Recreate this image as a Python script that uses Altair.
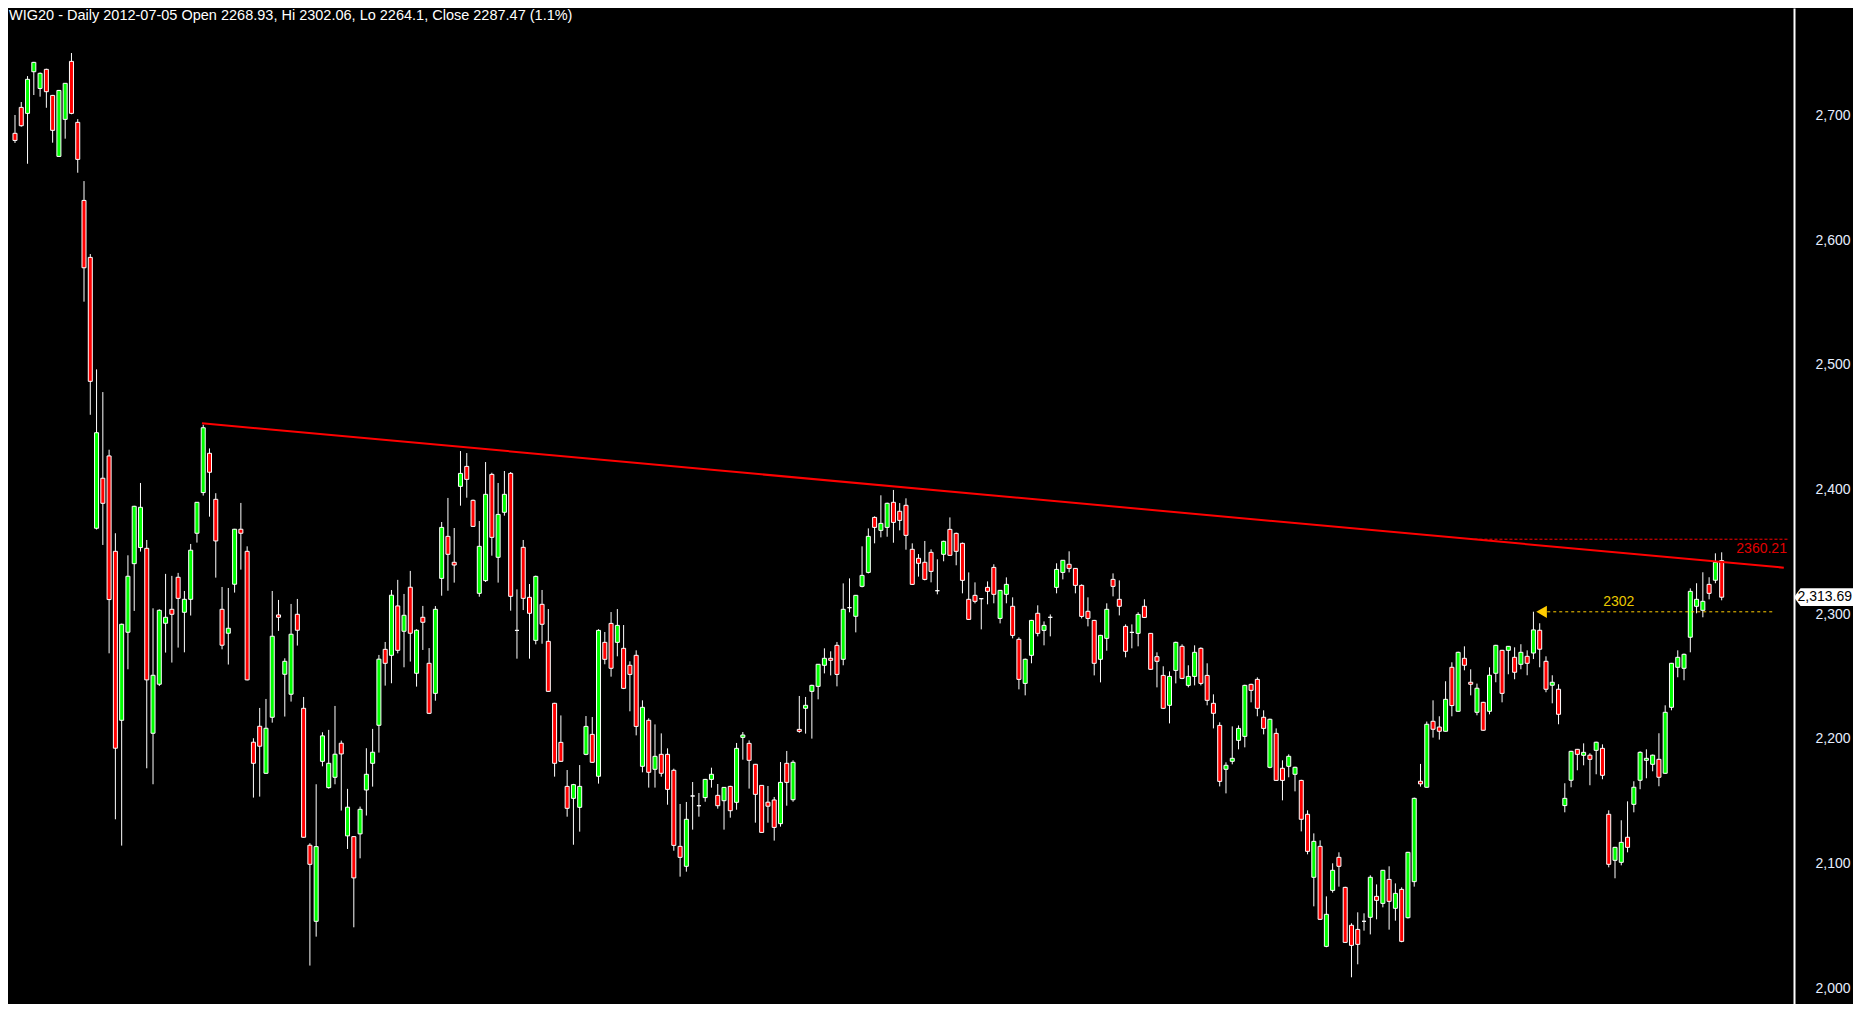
import altair as alt
import pandas as pd

# ---- OHLC values (WIG20 daily, ~Jul 2011 - Jul 2012) ----
opens = [2685.7,2706.5,2701.7,2735.1,2721.7,2737.0,2716.1,2667.2,2696.9,2743.4,
2694.5,2631.9,2586.2,2369.0,2409.1,2427.0,2350.5,2215.0,2285.6,2340.6,
2353.5,2352.9,2204.6,2243.9,2292.8,2304.0,2329.7,2301.6,2312.0,2365.0,
2397.6,2429.1,2392.2,2304.0,2284.8,2324.1,2368.2,2350.5,2197.4,2210.2,
2172.5,2217.4,2299.5,2251.9,2235.9,2300.0,2224.6,2114.8,2053.8,2182.1,
2161.0,2169.3,2196.6,2122.3,2121.7,2123.9,2159.1,2180.5,2211.0,2271.9,
2267.1,2306.7,2286.4,2321.7,2252.7,2297.6,2260.7,2236.6,2328.8,2362.5,
2341.7,2402.6,2418.6,2391.4,2316.8,2327.0,2412.2,2345.7,2381.8,2413.0,
2287.1,2353.7,2313.6,2279.1,2308.0,2278.3,2228.6,2197.3,2162.0,2152.4,
2145.2,2187.7,2203.7,2170.1,2277.5,2292.7,2277.5,2272.7,2259.1,2267.1,
2178.1,2215.0,2175.7,2187.7,2187.7,2174.9,2113.9,2097.9,2154.3,2146.5,
2153.0,2167.6,2154.8,2150.5,2162.0,2149.2,2201.3,2196.5,2179.7,2162.8,
2149.3,2151.1,2132.1,2180.5,2151.3,2207.7,2224.6,2238.2,2242.2,2259.1,
2264.7,2275.1,2263.9,2305.3,2298.4,2322.4,2333.6,2377.7,2367.3,2369.7,
2389.8,2382.6,2387.4,2352.1,2344.9,2341.7,2349.7,2318.9,2348.1,2368.1,
2364.9,2356.9,2312.0,2315.2,2312.5,2321.6,2337.6,2296.7,2316.0,2306.4,
2279.9,2244.6,2267.1,2300.8,2287.1,2297.6,2321.6,2333.6,2340.1,2336.8,
2323.2,2302.4,2295.1,2263.9,2280.7,2328.0,2312.0,2290.3,2285.5,2284.7,
2306.4,2284.7,2266.0,2251.0,2227.0,2255.0,2274.3,2243.0,2250.2,2272.7,
2251.0,2228.6,2210.9,2175.7,2182.1,2198.9,2202.1,2243.8,2247.8,2217.4,
2177.3,2204.5,2176.5,2178.1,2171.7,2166.8,2139.6,2089.1,2113.9,2033.7,
2078.6,2105.1,2081.0,2050.6,2047.3,2053.8,2057.0,2073.8,2068.2,2087.4,
2064.2,2079.4,2056.7,2085.6,2166.1,2161.3,2214.2,2209.6,2206.2,2257.5,
2222.2,2264.7,2245.5,2221.4,2229.4,2222.2,2252.7,2271.1,2271.1,2265.5,
2259.9,2266.3,2268.93,2287.2,2262.3,2243.1,2239.9,2146.6,2166.9,2191.7,
2186.9,2187.0,2190.9,2192.5,2139.6,2102.7,2101.1,2121.2,2147.6,2166.9,
2182.9,2179.7,2183.7,2172.5,2225.4,2257.5,2256.7,2281.6,2306.4,2303.2,
2324.0,2327.3,2343.0]

highs = [2700.4,2710.8,2731.6,2743.0,2734.5,2737.5,2716.5,2720.5,2726.0,2750.1,
2697.1,2647.4,2588.9,2496.4,2478.2,2432.0,2365.0,2292.5,2347.3,2387.0,
2405.3,2359.6,2304.8,2304.0,2332.4,2330.8,2333.2,2318.7,2356.4,2390.0,
2452.0,2433.0,2397.1,2321.9,2321.1,2368.5,2389.3,2354.5,2200.6,2224.9,
2232.1,2318.7,2311.5,2264.7,2308.3,2312.3,2233.7,2116.4,2163.7,2205.4,
2207.3,2226.5,2198.7,2160.0,2122.0,2145.8,2192.6,2208.1,2267.4,2277.8,
2319.5,2327.6,2316.3,2334.8,2288.0,2306.7,2272.9,2306.6,2374.0,2393.3,
2369.2,2430.9,2429.3,2392.0,2374.8,2422.1,2413.5,2405.3,2414.9,2414.1,
2320.0,2359.6,2324.3,2331.0,2319.5,2304.2,2229.0,2218.9,2175.1,2164.0,
2179.1,2218.4,2217.6,2288.0,2285.8,2301.8,2304.2,2291.4,2262.3,2271.1,
2231.0,2216.6,2211.7,2204.5,2192.5,2176.2,2147.9,2149.5,2165.5,2156.7,
2168.0,2177.0,2163.9,2161.5,2162.5,2196.8,2205.6,2198.9,2180.0,2163.0,
2162.3,2153.5,2181.5,2190.4,2182.9,2234.5,2233.7,2243.5,2260.0,2272.7,
2270.3,2277.8,2324.8,2328.8,2315.5,2354.5,2368.9,2378.5,2395.4,2389.5,
2399.7,2389.2,2393.0,2356.9,2348.3,2358.8,2352.1,2344.1,2359.0,2377.7,
2365.5,2357.5,2333.6,2325.6,2313.0,2326.4,2340.1,2319.5,2329.6,2313.6,
2281.5,2264.5,2295.5,2307.2,2294.3,2299.9,2340.9,2343.5,2350.5,2337.0,
2324.0,2313.6,2295.5,2283.5,2308.8,2332.8,2327.2,2291.9,2291.9,2301.6,
2312.0,2285.0,2269.5,2258.3,2254.2,2278.0,2275.9,2259.1,2275.1,2273.5,
2260.7,2235.8,2213.4,2181.3,2210.1,2210.9,2243.5,2244.3,2249.4,2223.0,
2216.3,2208.5,2182.9,2187.7,2177.8,2167.3,2142.8,2124.3,2118.7,2073.8,
2100.3,2109.1,2081.5,2052.2,2061.0,2060.2,2090.7,2083.4,2095.0,2097.9,
2084.2,2081.0,2109.5,2153.0,2180.0,2214.0,2231.0,2218.2,2246.3,2261.5,
2270.0,2274.3,2255.9,2244.4,2229.8,2257.5,2275.5,2271.5,2274.5,2273.5,
2276.0,2271.1,2302.06,2292.8,2266.3,2251.1,2243.9,2164.5,2190.5,2192.0,
2196.5,2188.5,2197.8,2195.7,2142.8,2113.5,2134.8,2150.0,2166.1,2190.1,
2191.7,2187.5,2204.6,2227.0,2261.0,2271.1,2268.5,2320.8,2324.9,2333.7,
2329.7,2348.9,2349.7]

lows = [2678.0,2691.0,2661.3,2716.4,2715.1,2706.2,2678.2,2667.0,2681.4,2701.0,
2654.1,2550.7,2460.0,2368.0,2355.6,2268.7,2135.6,2114.5,2255.9,2302.7,
2350.3,2176.5,2163.7,2242.5,2269.3,2261.3,2273.3,2269.5,2299.0,2357.5,
2395.2,2378.3,2329.4,2271.9,2259.7,2317.4,2335.8,2247.0,2153.0,2153.8,
2172.0,2213.1,2286.7,2218.0,2230.0,2274.9,2121.0,2018.3,2041.5,2178.1,
2160.2,2163.7,2142.6,2111.8,2049.0,2104.3,2138.6,2161.8,2189.1,2242.8,
2244.7,2268.7,2257.5,2262.1,2242.0,2271.4,2220.0,2230.7,2314.9,2318.9,
2325.4,2387.1,2393.5,2370.0,2314.1,2325.9,2347.0,2325.4,2379.1,2302.9,
2264.4,2303.4,2264.4,2275.9,2276.4,2238.0,2169.8,2181.6,2137.7,2115.2,
2125.7,2187.0,2181.0,2164.2,2259.9,2250.0,2266.3,2240.0,2222.2,2202.9,
2173.3,2161.0,2161.0,2169.8,2147.3,2110.4,2089.6,2093.6,2127.3,2137.7,
2149.7,2161.0,2144.1,2127.3,2136.9,2143.3,2183.4,2160.2,2132.9,2125.0,
2132.9,2118.5,2129.7,2146.5,2149.7,2205.0,2204.3,2200.3,2231.8,2252.6,
2251.0,2242.2,2259.1,2301.6,2285.5,2321.6,2332.8,2356.9,2361.7,2362.2,
2357.4,2367.3,2351.8,2323.5,2330.2,2327.2,2325.6,2316.0,2342.5,2347.0,
2339.3,2316.8,2295.5,2308.8,2287.9,2308.0,2308.8,2292.7,2308.8,2280.7,
2239.8,2235.0,2260.7,2282.3,2275.1,2282.3,2316.8,2328.0,2333.6,2316.8,
2296.7,2290.3,2251.0,2245.4,2270.8,2314.4,2299.1,2265.5,2272.7,2274.3,
2297.0,2255.5,2241.4,2224.0,2212.5,2244.6,2248.0,2241.4,2243.0,2243.0,
2227.0,2208.5,2162.0,2156.4,2179.7,2191.7,2193.3,2229.4,2218.2,2203.7,
2176.5,2166.3,2150.8,2169.3,2158.0,2125.9,2107.5,2065.8,2055.0,2033.0,
2076.8,2081.6,2036.5,2008.9,2019.3,2046.3,2043.3,2055.4,2065.0,2047.1,
2054.3,2037.0,2056.0,2081.6,2161.8,2161.0,2201.1,2199.5,2206.0,2218.2,
2222.0,2255.1,2235.0,2219.0,2206.6,2219.8,2245.5,2229.4,2251.9,2247.9,
2255.9,2251.1,2264.1,2257.5,2237.5,2228.6,2211.8,2141.2,2161.3,2174.9,
2178.9,2162.9,2171.7,2167.7,2097.1,2088.3,2098.7,2109.1,2141.2,2159.7,
2168.5,2174.1,2162.1,2172.0,2223.0,2249.5,2247.1,2269.5,2300.8,2297.6,
2312.0,2324.9,2311.2]

closes = [2680.0,2691.8,2729.0,2742.6,2733.8,2719.1,2688.1,2720.1,2725.8,2701.7,
2664.8,2577.9,2486.8,2445.6,2389.0,2311.8,2192.6,2292.0,2330.5,2386.6,
2385.8,2247.4,2251.1,2303.2,2297.6,2300.0,2312.8,2312.0,2351.4,2389.8,
2449.6,2413.9,2358.8,2275.2,2288.8,2368.2,2365.0,2247.4,2180.5,2194.2,
2208.6,2282.4,2297.6,2262.3,2284.0,2287.2,2121.2,2099.5,2113.7,2202.5,
2180.5,2187.8,2188.0,2145.3,2088.6,2143.6,2171.7,2189.4,2264.0,2260.7,
2315.3,2271.1,2299.2,2284.8,2287.2,2293.6,2220.6,2304.0,2369.7,2348.1,
2339.5,2413.0,2408.2,2370.5,2354.5,2396.2,2361.7,2380.1,2396.2,2314.4,
2287.1,2312.8,2300.8,2330.4,2292.0,2238.2,2180.5,2182.1,2144.4,2163.4,
2162.0,2210.1,2181.3,2287.1,2263.9,2256.7,2291.1,2240.6,2251.8,2210.1,
2225.4,2173.3,2186.1,2172.5,2159.6,2114.7,2105.1,2135.6,2154.3,2146.5,
2167.6,2171.7,2146.5,2161.2,2142.5,2192.5,2203.2,2182.9,2155.6,2125.1,
2146.1,2129.1,2165.2,2165.2,2181.3,2206.1,2227.0,2243.0,2259.9,2264.7,
2263.1,2251.8,2304.0,2305.3,2315.2,2331.2,2362.5,2369.7,2372.9,2389.0,
2373.7,2375.3,2363.3,2324.0,2340.9,2328.0,2334.4,2318.9,2358.5,2347.3,
2350.5,2327.2,2295.9,2310.4,2312.5,2318.4,2316.0,2319.2,2324.0,2283.1,
2247.8,2263.9,2295.1,2284.7,2291.1,2297.6,2336.0,2343.3,2336.8,2323.2,
2298.3,2296.7,2260.7,2283.1,2304.0,2322.4,2306.4,2270.3,2285.5,2299.9,
2297.5,2255.9,2262.3,2224.6,2250.2,2277.5,2248.6,2250.2,2269.5,2244.6,
2231.0,2220.6,2166.0,2178.9,2184.5,2208.5,2243.0,2239.0,2224.6,2208.5,
2215.8,2166.8,2166.8,2186.1,2177.3,2135.6,2109.9,2117.9,2055.4,2059.4,
2094.7,2097.9,2036.9,2034.5,2035.3,2053.8,2089.1,2070.6,2094.7,2069.8,
2076.2,2037.7,2109.1,2152.4,2164.0,2211.8,2207.8,2206.2,2231.8,2226.8,
2269.5,2259.1,2243.9,2240.7,2207.0,2251.1,2275.1,2236.6,2274.3,2253.5,
2269.5,2260.7,2287.47,2272.0,2239.9,2245.5,2219.8,2152.4,2190.1,2187.7,
2189.3,2183.7,2197.4,2170.9,2099.5,2113.1,2117.1,2113.1,2161.3,2189.3,
2184.5,2187.0,2169.3,2221.4,2260.7,2265.5,2267.9,2318.4,2312.0,2310.4,
2316.8,2341.7,2313.69]

# y-axis tick values
y_ticks = [2000, 2100, 2200, 2300, 2400, 2500, 2600, 2700]

# annotations
title_text = "WIG20 - Daily 2012-07-05 Open 2268.93, Hi 2302.06, Lo 2264.1, Close 2287.47 (1.1%)"
trend_i = [29.8, 281.9]
trend_v = [2453.2, 2337.4]
res_level = 2360.21
res_from = 232.6
sup_level = 2302.0
sup_from = 244.2
sup_to = 280.3
sup_arrow_i = 243.3
last_close = 2313.69

n = len(opens)
df = pd.DataFrame({
    "i": list(range(n)),
    "open": opens, "high": highs, "low": lows, "close": closes,
})
df["dir"] = ["up" if c > o else ("down" if c < o else "flat") for o, c in zip(opens, closes)]

W, H = 1786, 996
X_DOM = [-0.317, 282.73]
Y_DOM = [2786.2 - H / 1.247, 2786.2]
xs = alt.Scale(domain=X_DOM, nice=False, zero=False)
ys = alt.Scale(domain=Y_DOM, nice=False, zero=False)
FONT = "Liberation Sans"
yax = alt.Axis(orient="right", values=y_ticks, format=",.0f", labelColor="#e6eeff",
               labelFont=FONT, labelFontSize=14, ticks=False, domain=True,
               domainColor="#ffffff", domainWidth=2, grid=False, title=None,
               labelPadding=21, labelAlign="left", labelBaseline="middle")

base = alt.Chart(df)

wicks = base.mark_rule(color="#ffffff", strokeWidth=1).encode(
    x=alt.X("i:Q", scale=xs, axis=None),
    y=alt.Y("low:Q", scale=ys, axis=yax),
    y2="high:Q",
)

bodies = base.mark_bar(size=4, stroke="#ffffff", strokeWidth=1).encode(
    x=alt.X("i:Q", scale=xs, axis=None),
    y=alt.Y("open:Q", scale=ys, axis=yax),
    y2="close:Q",
    color=alt.Color("dir:N", scale=alt.Scale(domain=["up", "down", "flat"],
                    range=["#00ff00", "#ff0000", "#ffffff"]), legend=None),
)

trend_df = pd.DataFrame({"i1": [trend_i[0]], "i2": [trend_i[1]],
                         "v1": [trend_v[0]], "v2": [trend_v[1]]})
trend = alt.Chart(trend_df).mark_rule(color="#ff0000", strokeWidth=2).encode(
    x=alt.X("i1:Q", scale=xs, axis=None), x2="i2:Q",
    y=alt.Y("v1:Q", scale=ys, axis=yax), y2="v2:Q",
)

res_df = pd.DataFrame({"i1": [res_from], "i2": [X_DOM[1]], "v": [res_level]})
res_line = alt.Chart(res_df).mark_rule(color="#ff0000", strokeWidth=1, strokeDash=[3, 2]).encode(
    x=alt.X("i1:Q", scale=xs, axis=None), x2="i2:Q",
    y=alt.Y("v:Q", scale=ys, axis=yax),
)
res_lbl_df = pd.DataFrame({"i": [282.4], "v": [2352.4], "t": ["2360.21"]})
res_label = alt.Chart(res_lbl_df).mark_text(color="#e00000", font=FONT, fontSize=14,
                                            align="right", baseline="middle").encode(
    x=alt.X("i:Q", scale=xs, axis=None), y=alt.Y("v:Q", scale=ys, axis=yax), text="t:N")

sup_df = pd.DataFrame({"i1": [sup_from], "i2": [sup_to], "v": [sup_level]})
sup_line = alt.Chart(sup_df).mark_rule(color="#ffcc00", strokeWidth=1, strokeDash=[3, 3]).encode(
    x=alt.X("i1:Q", scale=xs, axis=None), x2="i2:Q",
    y=alt.Y("v:Q", scale=ys, axis=yax),
)
arrow_df = pd.DataFrame({"i": [sup_arrow_i], "v": [sup_level]})
sup_arrow = alt.Chart(arrow_df).mark_point(shape="triangle-left", filled=True, fill="#ffcc00",
                                           size=150, opacity=1, strokeWidth=0).encode(
    x=alt.X("i:Q", scale=xs, axis=None), y=alt.Y("v:Q", scale=ys, axis=yax))
sup_lbl_df = pd.DataFrame({"i": [255.6], "v": [2309.9], "t": ["2302"]})
sup_label = alt.Chart(sup_lbl_df).mark_text(color="#e8c800", font=FONT, fontSize=14,
                                            align="center", baseline="middle").encode(
    x=alt.X("i:Q", scale=xs, axis=None), y=alt.Y("v:Q", scale=ys, axis=yax), text="t:N")

title_df = pd.DataFrame({"t": [title_text]})
title = alt.Chart(title_df).mark_text(color="#ffffff", font=FONT, fontSize=14.5,
                                      align="left", baseline="top").encode(
    x=alt.value(1), y=alt.value(1), text="t:N")

tag_df = pd.DataFrame({"v": [last_close], "t": ["2,313.69"]})
tag_path = "M -1 0 L -0.78 -0.3 L 1 -0.3 L 1 0.3 L -0.78 0.3 Z"
tag_box = alt.Chart(tag_df).mark_point(shape=tag_path, filled=True, fill="#ffffff",
                                       size=3481, opacity=1, strokeWidth=0).encode(
    x=alt.value(W + 29.5), y=alt.Y("v:Q", scale=ys, axis=yax))
tag_text = alt.Chart(tag_df).mark_text(color="#000000", font=FONT, fontSize=14,
                                       align="right", baseline="middle").encode(
    x=alt.value(W + 58), y=alt.Y("v:Q", scale=ys, axis=yax), text="t:N")

chart = alt.layer(
    wicks, bodies, trend, res_line, res_label, sup_line, sup_arrow, sup_label,
    title, tag_box, tag_text
).properties(
    width=W, height=H, background="#000000", padding=0
).configure_view(stroke=None)

chart.save("out.html", embed_options={"renderer": "svg", "actions": False})
